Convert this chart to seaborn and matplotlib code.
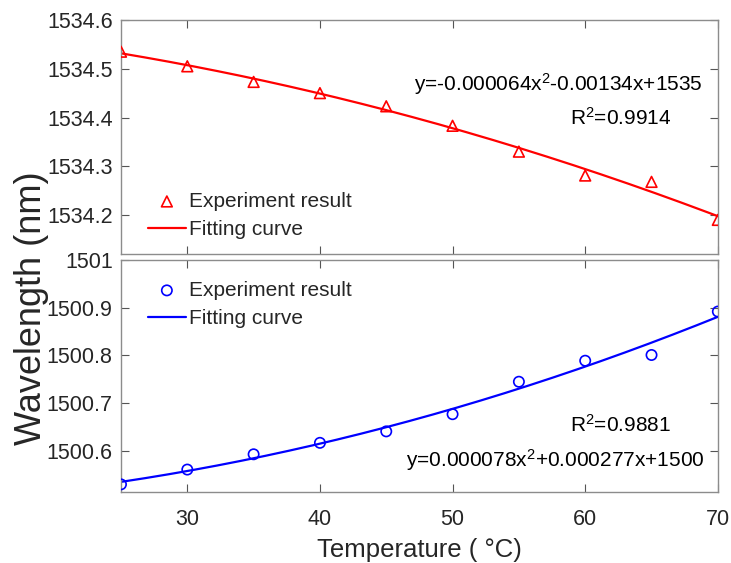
import numpy as np
import pandas as pd
import matplotlib
matplotlib.use("Agg")
import matplotlib.pyplot as plt
import seaborn as sns

# Measured peak wavelengths versus temperature
temperature = [25, 30, 35, 40, 45, 50, 55, 60, 65, 70]
wl_peak1 = [1534.535, 1534.505, 1534.473, 1534.450, 1534.423,
            1534.383, 1534.330, 1534.281, 1534.268, 1534.190]
wl_peak2 = [1500.530, 1500.561, 1500.593, 1500.617, 1500.641,
            1500.677, 1500.745, 1500.789, 1500.801, 1500.892]

eq1 = "y=-0.000064x$^2$-0.00134x+1535"
r2_1 = "R$^2$=0.9914"
eq2 = "y=0.000078x$^2$+0.000277x+1500"
r2_2 = "R$^2$=0.9881"

x_ticks = [30, 40, 50, 60, 70]
y_ticks1 = [1534.2, 1534.3, 1534.4, 1534.5, 1534.6]
y_ticks2 = [1500.6, 1500.7, 1500.8, 1500.9, 1501.0]
y_ticklabels2 = ["1500.6", "1500.7", "1500.8", "1500.9", "1501"]

sns.set_theme(style="white")
plt.rcParams["font.family"] = ["Liberation Sans", "DejaVu Sans"]
plt.rcParams["mathtext.fontset"] = "custom"
plt.rcParams["mathtext.rm"] = "Liberation Sans"
plt.rcParams["mathtext.it"] = "Liberation Sans"

fig = plt.figure(figsize=(7.31, 5.63), dpi=100)
ax1 = fig.add_axes([0.1655, 0.5488, 0.8165, 0.4157])
ax2 = fig.add_axes([0.1655, 0.1261, 0.8165, 0.4121])

df = pd.DataFrame({"T": temperature, "w1": wl_peak1, "w2": wl_peak2})
xfit = np.linspace(min(temperature), max(temperature), 200)


def quad_fit(y):
    coef = np.polyfit(temperature, y, 2)
    return pd.DataFrame({"T": xfit, "fit": np.polyval(coef, xfit)})


fit1 = quad_fit(wl_peak1)
fit2 = quad_fit(wl_peak2)

sns.scatterplot(data=df, x="T", y="w1", ax=ax1, marker="^", s=60,
                facecolor="none", edgecolor="#ff0000", linewidth=1.2,
                label="Experiment result", zorder=3)
sns.lineplot(data=fit1, x="T", y="fit", ax=ax1, color="#ff0000",
             linewidth=1.6, label="Fitting curve")

sns.scatterplot(data=df, x="T", y="w2", ax=ax2, marker="o", s=55,
                facecolor="none", edgecolor="#0000ff", linewidth=1.2,
                label="Experiment result", zorder=3)
sns.lineplot(data=fit2, x="T", y="fit", ax=ax2, color="#0000ff",
             linewidth=1.6, label="Fitting curve")

for ax in (ax1, ax2):
    ax.set_xlim(25, 70)
    ax.set_xticks(x_ticks)
    ax.set_xlabel("")
    ax.set_ylabel("")
    for sp in ax.spines.values():
        sp.set_visible(True)
        sp.set_color("#8c8c8c")
        sp.set_linewidth(1.0)
    ax.tick_params(direction="in", length=6, width=0.8, color="#555555",
                   top=True, right=True, bottom=True, left=True,
                   labelsize=15.5, labelcolor="#262626", pad=6)
    ax.tick_params(axis="x", pad=12)

ax1.set_ylim(1534.12, 1534.6)
ax1.set_yticks(y_ticks1)
ax1.set_yticklabels([f"{v:.1f}" for v in y_ticks1])
ax1.tick_params(labelbottom=False)

ax2.set_ylim(1500.514, 1501.0)
ax2.set_yticks(y_ticks2)
ax2.set_yticklabels(y_ticklabels2)
ax2.set_xticklabels([str(v) for v in x_ticks])

ax2.set_xlabel("Temperature ( °C)", fontsize=18.5, color="#262626", labelpad=6)
fig.text(0.043, 0.452, "Wavelength (nm)", rotation=90, fontsize=26,
         color="#262626", ha="center", va="center")

txt = dict(fontsize=15, color="black", ha="center", va="center")
ax1.text(0.732, 0.726, eq1, transform=ax1.transAxes, **txt)
ax1.text(0.837, 0.581, r2_1, transform=ax1.transAxes, **txt)
ax2.text(0.837, 0.289, r2_2, transform=ax2.transAxes, **txt)
ax2.text(0.728, 0.138, eq2, transform=ax2.transAxes, **txt)

leg_kw = dict(frameon=False, fontsize=15, handlelength=1.8,
              handletextpad=0.15, borderpad=0.0, labelspacing=0.45)
ax1.legend(loc="upper left", bbox_to_anchor=(0.028, 0.31), **leg_kw)
ax2.legend(loc="upper left", bbox_to_anchor=(0.028, 0.955), **leg_kw)

fig.savefig("out.png", dpi=100)
